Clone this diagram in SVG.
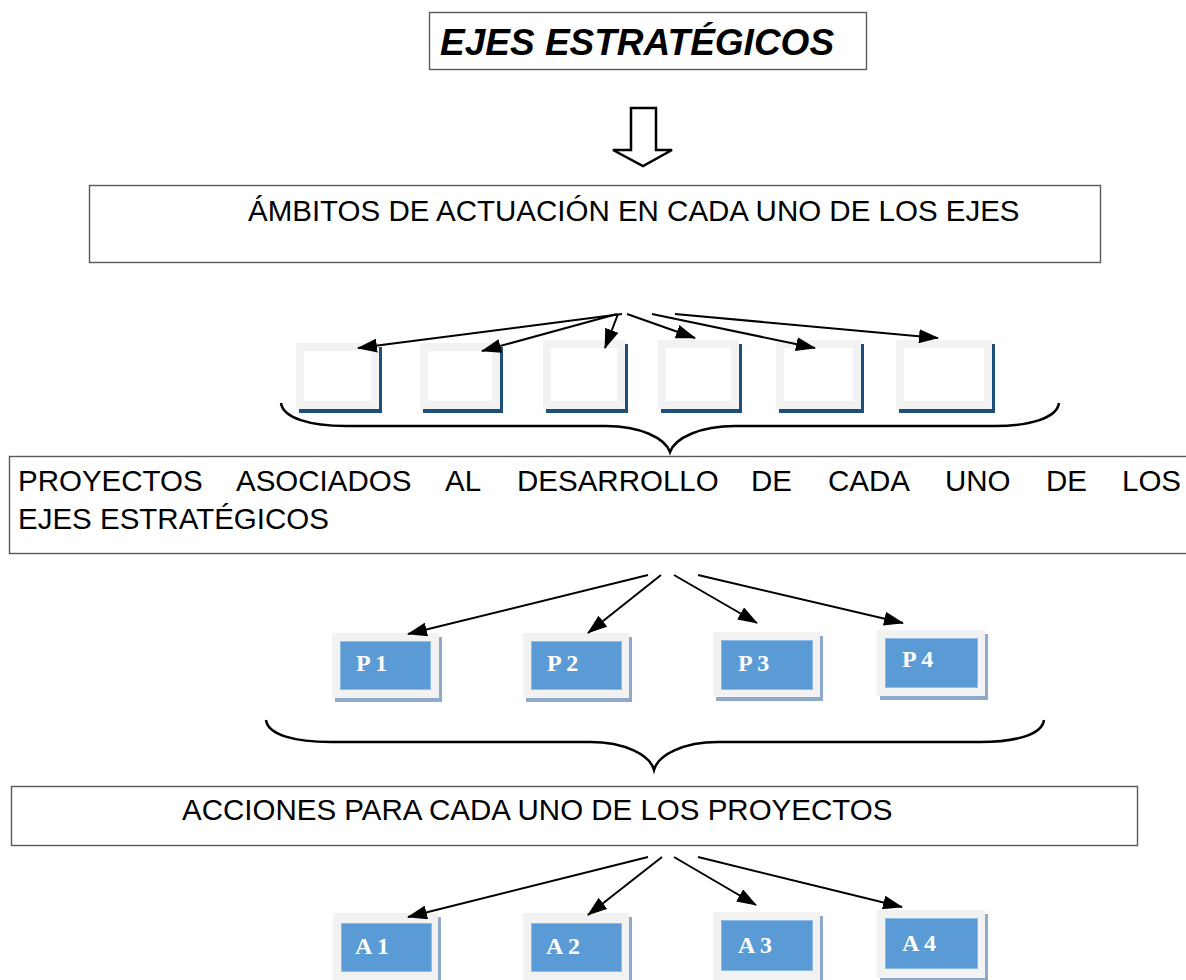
<svg xmlns="http://www.w3.org/2000/svg" width="1186" height="980" viewBox="0 0 1186 980">
<style>
.box{fill:#fff;stroke:#5a5a5a;stroke-width:1.4}
.txt{font-family:"Liberation Sans",Arial,sans-serif;font-size:29.5px;fill:#000}
.title{font-family:"Liberation Sans",Arial,sans-serif;font-size:37px;font-weight:bold;font-style:italic;fill:#000}
.lbl{font-family:"Liberation Serif","Times New Roman",serif;font-size:24px;font-weight:bold;fill:#fff}
.conn{stroke:#000;stroke-width:2;fill:none;marker-end:url(#ah)}
.brace{stroke:#000;stroke-width:2.5;fill:none}
.sq-sh{fill:#1f4e79}
.sq{fill:#fff;stroke:#f2f2f2;stroke-width:8}
.pb-sh{fill:#8ea9c9}
.pb-out{fill:#f2f2f2}
.pb-in{fill:#5b9bd5;stroke:#8fbbe6;stroke-width:1}
</style>
<defs>
<marker id="ah" viewBox="0 0 20 14" refX="19" refY="7" markerWidth="20" markerHeight="14" markerUnits="userSpaceOnUse" orient="auto">
<path d="M0,0 L20,7 L0,14 z" fill="#000"/>
</marker>
</defs>

<g id="title">
<rect class="box" x="429.5" y="12.5" width="437" height="57"/>
<text class="title" x="440" y="55">EJES ESTRATÉGICOS</text>
</g>

<g id="block-arrow">
<polygon points="631,108 656,108 656,150 672,150 643,166 613,150 631,150" fill="#fff" stroke="#000" stroke-width="2.5" stroke-linejoin="miter"/>
</g>

<g id="ambitos">
<rect class="box" x="89.5" y="185.5" width="1011" height="77"/>
<text class="txt" x="248" y="221">ÁMBITOS DE ACTUACIÓN EN CADA UNO DE LOS EJES</text>
</g>

<g id="sq1"><rect class="sq-sh" x="299" y="347" width="83" height="66"/><rect class="sq" x="300" y="347" width="75" height="58"/></g>
<g id="sq2"><rect class="sq-sh" x="423" y="347" width="80" height="66"/><rect class="sq" x="424" y="347" width="72" height="58"/></g>
<g id="sq3"><rect class="sq-sh" x="546" y="344" width="82" height="69"/><rect class="sq" x="547" y="344" width="74" height="61"/></g>
<g id="sq4"><rect class="sq-sh" x="661" y="344" width="81" height="69"/><rect class="sq" x="662" y="344" width="73" height="61"/></g>
<g id="sq5"><rect class="sq-sh" x="779" y="344" width="85" height="69"/><rect class="sq" x="780" y="344" width="77" height="61"/></g>
<g id="sq6"><rect class="sq-sh" x="899" y="344" width="96" height="69"/><rect class="sq" x="900" y="344" width="88" height="61"/></g>

<g id="brace1">
<path class="brace" d="M281,403 C283,418 310,426 346,426 L606,426 C640,426 665,438 670,452 C675,438 700,426 735,426 L995,426 C1030,426 1057,418 1059,403"/>
</g>

<g id="proyectos">
<rect class="box" x="9.5" y="456.5" width="1190" height="97"/>
<text class="txt" y="491"><tspan x="18">PROYECTOS</tspan><tspan x="236">ASOCIADOS</tspan><tspan x="445">AL</tspan><tspan x="517">DESARROLLO</tspan><tspan x="751">DE</tspan><tspan x="828">CADA</tspan><tspan x="945">UNO</tspan><tspan x="1046">DE</tspan><tspan x="1122">LOS</tspan></text>
<text class="txt" x="18" y="529">EJES ESTRATÉGICOS</text>
</g>

<g id="P1"><rect class="pb-sh" x="335" y="637" width="107" height="65"/><rect class="pb-out" x="332" y="633" width="107" height="65"/><rect class="pb-in" x="340.5" y="641.5" width="90" height="48"/><text class="lbl" x="356" y="671">P 1</text></g>
<g id="P2"><rect class="pb-sh" x="526" y="637" width="106" height="65"/><rect class="pb-out" x="523" y="633" width="106" height="65"/><rect class="pb-in" x="531.5" y="641.5" width="90" height="48"/><text class="lbl" x="547" y="671">P 2</text></g>
<g id="P3"><rect class="pb-sh" x="716" y="636" width="107" height="65"/><rect class="pb-out" x="713" y="632" width="107" height="65"/><rect class="pb-in" x="721.5" y="640.5" width="91" height="49"/><text class="lbl" x="738" y="671">P 3</text></g>
<g id="P4"><rect class="pb-sh" x="880" y="634" width="108" height="66"/><rect class="pb-out" x="877" y="630" width="108" height="66"/><rect class="pb-in" x="885.5" y="638.5" width="92" height="49"/><text class="lbl" x="902" y="667">P 4</text></g>

<g id="brace2">
<path class="brace" d="M266,720 C268,735 295,742 331,742 L590,742 C625,742 650,755 654,770 C658,755 683,742 718,742 L980,742 C1015,742 1042,735 1044,720"/>
</g>

<g id="acciones">
<rect class="box" x="11.5" y="786.5" width="1126" height="59"/>
<text class="txt" x="182" y="820">ACCIONES PARA CADA UNO DE LOS PROYECTOS</text>
</g>

<g id="A1"><rect class="pb-sh" x="336" y="917" width="105" height="67"/><rect class="pb-out" x="333" y="913" width="105" height="67"/><rect class="pb-in" x="341.5" y="923.5" width="90" height="48"/><text class="lbl" x="355" y="954">A 1</text></g>
<g id="A2"><rect class="pb-sh" x="526" y="917" width="106" height="67"/><rect class="pb-out" x="523" y="913" width="106" height="67"/><rect class="pb-in" x="531.5" y="923.5" width="90" height="48"/><text class="lbl" x="546" y="954">A 2</text></g>
<g id="A3"><rect class="pb-sh" x="716" y="916" width="107" height="68"/><rect class="pb-out" x="713" y="912" width="107" height="68"/><rect class="pb-in" x="721.5" y="920.5" width="91" height="50"/><text class="lbl" x="738" y="953">A 3</text></g>
<g id="A4"><rect class="pb-sh" x="880" y="914" width="108" height="68"/><rect class="pb-out" x="877" y="910" width="108" height="68"/><rect class="pb-in" x="885.5" y="918.5" width="92" height="50"/><text class="lbl" x="902" y="951">A 4</text></g>

<g id="connectors">
<line class="conn" x1="622" y1="314" x2="358" y2="348"/>
<line class="conn" x1="617" y1="314" x2="482" y2="351"/>
<line class="conn" x1="618" y1="314" x2="605" y2="348"/>
<line class="conn" x1="627" y1="314" x2="695" y2="338"/>
<line class="conn" x1="652" y1="314" x2="815" y2="348"/>
<line class="conn" x1="675" y1="314" x2="938" y2="338"/>
<line class="conn" x1="648" y1="575" x2="408" y2="634"/>
<line class="conn" x1="661" y1="575" x2="588" y2="633"/>
<line class="conn" x1="674" y1="575" x2="757" y2="623"/>
<line class="conn" x1="698" y1="575" x2="903" y2="623"/>
<line class="conn" x1="648" y1="857" x2="408" y2="917"/>
<line class="conn" x1="662" y1="857" x2="588" y2="915"/>
<line class="conn" x1="674" y1="857" x2="756" y2="905"/>
<line class="conn" x1="698" y1="857" x2="902" y2="907"/>
</g>
</svg>
